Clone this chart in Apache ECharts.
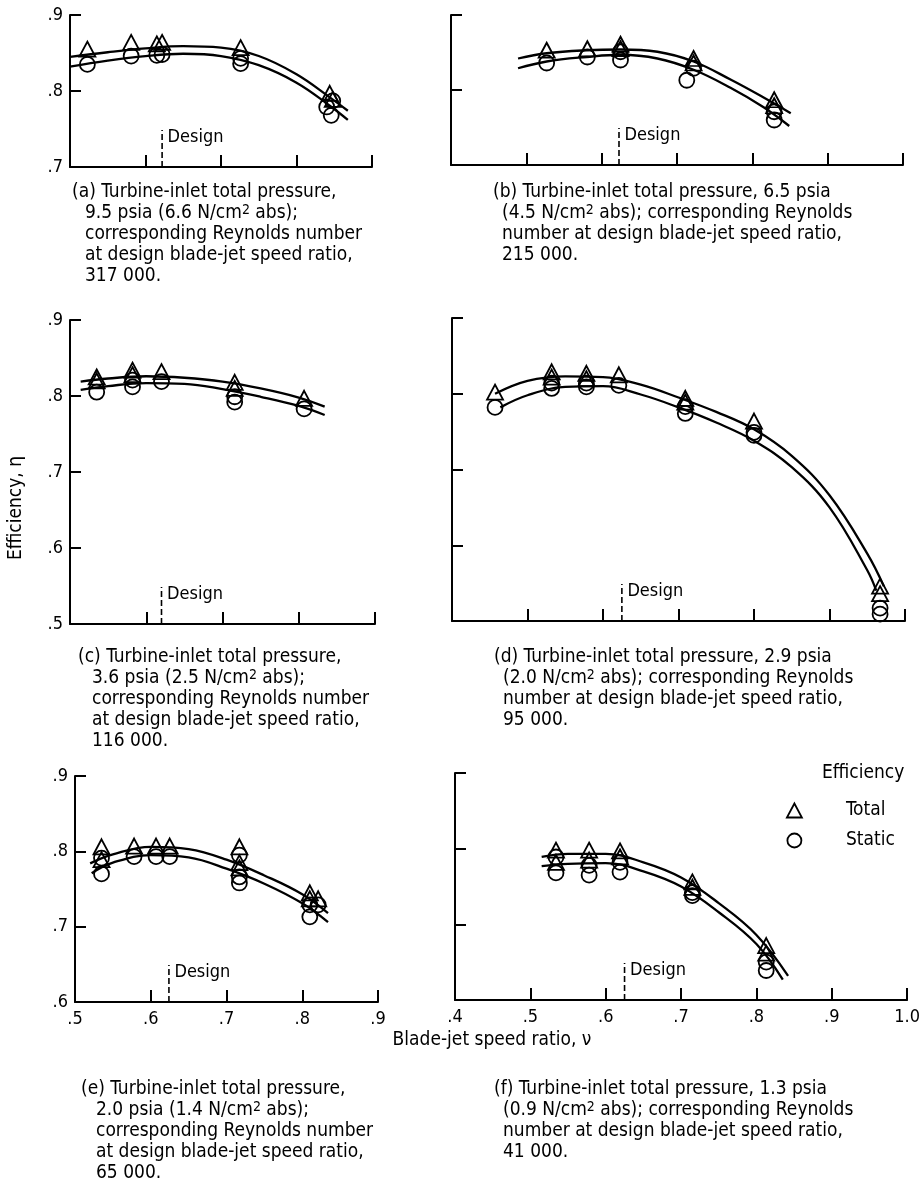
<!DOCTYPE html>
<html>
<head>
<meta charset="utf-8">
<script src="https://cdn.jsdelivr.net/npm/echarts@6/dist/echarts.min.js"></script>
<style>
  html, body { margin: 0; padding: 0; background: #fff; }
  #chart { width: 923px; height: 1192px; }
</style>
</head>
<body>
<div id="chart"></div>
<script>
const FONT = '"DejaVu Sans Condensed", "Liberation Sans", sans-serif';

// measured points: [blade-jet speed ratio, efficiency]
const totalA = [[0.523,0.855],[0.581,0.864],[0.615,0.862],[0.622,0.864],[0.726,0.857],[0.844,0.797],[0.848,0.789]];
const staticA = [[0.523,0.835],[0.581,0.846],[0.615,0.847],[0.622,0.848],[0.726,0.843],[0.726,0.836],[0.840,0.779],[0.846,0.768],[0.848,0.787]];
const totalB = [[0.527,0.853],[0.581,0.855],[0.625,0.861],[0.625,0.855],[0.722,0.842],[0.722,0.836],[0.829,0.787],[0.829,0.779]];
const staticB = [[0.527,0.836],[0.581,0.844],[0.625,0.851],[0.625,0.840],[0.722,0.829],[0.713,0.813],[0.829,0.771],[0.829,0.760]];
const totalC = [[0.535,0.825],[0.535,0.820],[0.582,0.834],[0.582,0.828],[0.62,0.832],[0.716,0.818],[0.716,0.810],[0.807,0.797]];
const staticC = [[0.535,0.805],[0.582,0.821],[0.582,0.812],[0.62,0.819],[0.716,0.799],[0.716,0.792],[0.807,0.783]];
const totalD = [[0.457,0.802],[0.532,0.829],[0.532,0.822],[0.578,0.827],[0.578,0.820],[0.621,0.825],[0.709,0.794],[0.709,0.789],[0.8,0.764],[0.967,0.546],[0.967,0.536]];
const staticD = [[0.457,0.782],[0.532,0.814],[0.532,0.807],[0.578,0.814],[0.578,0.809],[0.621,0.811],[0.709,0.783],[0.709,0.774],[0.8,0.749],[0.8,0.745],[0.967,0.517],[0.967,0.509]];
const totalE = [[0.535,0.806],[0.535,0.789],[0.578,0.807],[0.607,0.807],[0.625,0.807],[0.717,0.806],[0.717,0.785],[0.717,0.778],[0.81,0.745],[0.81,0.737],[0.821,0.737]];
const staticE = [[0.535,0.791],[0.535,0.770],[0.578,0.793],[0.607,0.793],[0.625,0.793],[0.717,0.795],[0.717,0.766],[0.717,0.758],[0.81,0.729],[0.81,0.713],[0.821,0.729]];
const totalF = [[0.534,0.798],[0.534,0.782],[0.578,0.798],[0.578,0.785],[0.619,0.797],[0.619,0.789],[0.715,0.756],[0.715,0.749],[0.813,0.672],[0.813,0.662]];
const staticF = [[0.534,0.789],[0.534,0.768],[0.578,0.778],[0.578,0.765],[0.619,0.782],[0.619,0.769],[0.715,0.742],[0.715,0.738],[0.813,0.650],[0.813,0.639]];

// faired curves
const fairTotalA = [[0.5,0.845],[0.55,0.851],[0.6,0.856],[0.65,0.859],[0.7,0.857],[0.75,0.846],[0.8,0.822],[0.845,0.791],[0.868,0.774]];
const fairStaticA = [[0.5,0.832],[0.55,0.840],[0.6,0.846],[0.65,0.849],[0.7,0.846],[0.75,0.834],[0.8,0.811],[0.845,0.78],[0.868,0.762]];
const fairTotalB = [[0.489,0.842],[0.527,0.849],[0.58,0.853],[0.625,0.854],[0.674,0.851],[0.722,0.838],[0.771,0.814],[0.815,0.790],[0.851,0.769]];
const fairStaticB = [[0.489,0.829],[0.527,0.838],[0.58,0.844],[0.625,0.847],[0.674,0.842],[0.722,0.827],[0.771,0.803],[0.815,0.777],[0.849,0.752]];
const fairTotalC = [[0.514,0.819],[0.55,0.823],[0.6,0.826],[0.65,0.824],[0.7,0.819],[0.75,0.810],[0.8,0.798],[0.834,0.786]];
const fairStaticC = [[0.514,0.808],[0.55,0.813],[0.6,0.817],[0.65,0.816],[0.7,0.809],[0.75,0.799],[0.8,0.787],[0.834,0.775]];
const fairTotalD = [[0.457,0.800],[0.5,0.817],[0.55,0.823],[0.6,0.822],[0.65,0.812],[0.7,0.795],[0.75,0.776],[0.8,0.753],[0.85,0.718],[0.9,0.666],[0.95,0.589],[0.972,0.546]];
const fairStaticD = [[0.464,0.782],[0.5,0.798],[0.55,0.809],[0.6,0.810],[0.65,0.799],[0.7,0.782],[0.75,0.762],[0.8,0.738],[0.85,0.703],[0.9,0.650],[0.95,0.567],[0.962,0.540]];
const fairTotalE = [[0.52,0.784],[0.55,0.796],[0.6,0.806],[0.65,0.803],[0.7,0.789],[0.75,0.768],[0.8,0.743],[0.834,0.718]];
const fairStaticE = [[0.522,0.771],[0.55,0.785],[0.6,0.795],[0.65,0.792],[0.7,0.777],[0.75,0.757],[0.8,0.731],[0.834,0.706]];
const fairTotalF = [[0.515,0.789],[0.55,0.793],[0.6,0.793],[0.65,0.782],[0.7,0.762],[0.75,0.728],[0.8,0.686],[0.842,0.632]];
const fairStaticF = [[0.515,0.777],[0.55,0.780],[0.6,0.781],[0.65,0.770],[0.7,0.750],[0.75,0.716],[0.8,0.674],[0.835,0.627]];

const designRatio = [0.622, 0.623, 0.62, 0.625, 0.624, 0.625];
const xMin = [0.5, 0.4, 0.5, 0.4, 0.5, 0.4];
const xMax = [0.9, 1.0, 0.9, 1.0, 0.9, 1.0];
const yMin = [0.7, 0.7, 0.5, 0.5, 0.6, 0.6];
const yMax = [0.9, 0.9, 0.9, 0.9, 0.9, 0.9];

const captions = [
  ["(a) Turbine-inlet total pressure,", "9.5 psia (6.6 N/cm{sup|2} abs);", "corresponding Reynolds number", "at design blade-jet speed ratio,", "317 000."],
  ["(b) Turbine-inlet total pressure, 6.5 psia", "(4.5 N/cm{sup|2} abs); corresponding Reynolds", "number at design blade-jet speed ratio,", "215 000."],
  ["(c) Turbine-inlet total pressure,", "3.6 psia (2.5 N/cm{sup|2} abs);", "corresponding Reynolds number", "at design blade-jet speed ratio,", "116 000."],
  ["(d) Turbine-inlet total pressure, 2.9 psia", "(2.0 N/cm{sup|2} abs); corresponding Reynolds", "number at design blade-jet speed ratio,", "95 000."],
  ["(e) Turbine-inlet total pressure,", "2.0 psia (1.4 N/cm{sup|2} abs);", "corresponding Reynolds number", "at design blade-jet speed ratio,", "65 000."],
  ["(f) Turbine-inlet total pressure, 1.3 psia", "(0.9 N/cm{sup|2} abs); corresponding Reynolds", "number at design blade-jet speed ratio,", "41 000."]
];

const totals = [totalA, totalB, totalC, totalD, totalE, totalF];
const statics = [staticA, staticB, staticC, staticD, staticE, staticF];
const fairTotals = [fairTotalA, fairTotalB, fairTotalC, fairTotalD, fairTotalE, fairTotalF];
const fairStatics = [fairStaticA, fairStaticB, fairStaticC, fairStaticD, fairStaticE, fairStaticF];

// layout (pixels)
const boxes = [
  { left: 70, top: 15, width: 302, height: 152 },
  { left: 451, top: 15, width: 452, height: 150 },
  { left: 70, top: 320, width: 305, height: 304 },
  { left: 452, top: 318, width: 453, height: 303 },
  { left: 75, top: 776, width: 303, height: 226 },
  { left: 455, top: 773, width: 454, height: 227 }
];
const captionPos = [
  { x1: 72, x2: 85, y: 192 },
  { x1: 493, x2: 502, y: 192 },
  { x1: 78, x2: 92, y: 657 },
  { x1: 494, x2: 503, y: 657 },
  { x1: 81, x2: 96, y: 1089 },
  { x1: 494, x2: 503, y: 1089 }
];
const LINE_GAP = 21;

const fmtTick = v => (v >= 0.999 ? v.toFixed(1) : v.toFixed(1).slice(1));
const black = "#000";
const hollow = { color: "rgba(0,0,0,0)", borderColor: black, borderWidth: 1.8, opacity: 1 };

const grid = [], xAxis = [], yAxis = [], series = [], graphic = [];

boxes.forEach((b, i) => {
  grid.push(Object.assign({ containLabel: false }, b));
  xAxis.push({
    type: "value", gridIndex: i, min: xMin[i], max: xMax[i], interval: 0.1,
    axisLine: { onZero: false, lineStyle: { color: black, width: 2 } },
    axisTick: { inside: true, length: 12, lineStyle: { color: black, width: 2 } },
    splitLine: { show: false },
    axisLabel: { show: i >= 4, formatter: fmtTick, color: black, fontFamily: FONT, fontSize: 18, margin: 8 }
  });
  yAxis.push({
    type: "value", gridIndex: i, min: yMin[i], max: yMax[i], interval: 0.1,
    axisLine: { onZero: false, lineStyle: { color: black, width: 2 } },
    axisTick: { inside: true, length: 11, lineStyle: { color: black, width: 2 } },
    splitLine: { show: false },
    axisLabel: { show: i % 2 === 0, formatter: fmtTick, color: black, fontFamily: FONT, fontSize: 18, margin: 7 }
  });

  const perPx = (yMax[i] - yMin[i]) / b.height;
  series.push({
    type: "line", xAxisIndex: i, yAxisIndex: i, smooth: 0.4, showSymbol: false, silent: true,
    data: fairTotals[i], lineStyle: { color: black, width: 2.3 }, z: 2
  });
  series.push({
    type: "line", xAxisIndex: i, yAxisIndex: i, smooth: 0.4, showSymbol: false, silent: true,
    data: fairStatics[i], lineStyle: { color: black, width: 2.3 }, z: 2
  });
  series.push({
    type: "line", xAxisIndex: i, yAxisIndex: i, showSymbol: false, silent: true,
    data: [[designRatio[i], yMin[i]], [designRatio[i], yMin[i] + 37 * perPx]],
    lineStyle: { color: black, width: 1.6, type: [6, 3] }, z: 2
  });
  series.push({
    type: "scatter", xAxisIndex: i, yAxisIndex: i, silent: true, symbolSize: 1,
    itemStyle: { color: "rgba(0,0,0,0)", opacity: 1 },
    data: [[designRatio[i], yMin[i] + 30 * perPx]],
    label: { show: true, position: "right", distance: 5, formatter: "Design", color: black, fontFamily: FONT, fontSize: 18 }
  });
  series.push({
    name: "Total", type: "scatter", xAxisIndex: i, yAxisIndex: i,
    symbol: "triangle", symbolSize: [16, 15], itemStyle: hollow, data: totals[i], z: 4
  });
  series.push({
    name: "Static", type: "scatter", xAxisIndex: i, yAxisIndex: i,
    symbol: "circle", symbolSize: 15, itemStyle: hollow, data: statics[i], z: 3
  });

  const cp = captionPos[i];
  captions[i].forEach((line, k) => {
    graphic.push({
      type: "text", x: k === 0 ? cp.x1 : cp.x2, y: cp.y + k * LINE_GAP, silent: true,
      style: {
        text: line, fill: black, fontFamily: FONT, fontSize: 19,
        textVerticalAlign: "middle", verticalAlign: "middle",
        rich: { sup: { fontSize: 14, verticalAlign: "top", lineHeight: 13, fontFamily: FONT, fill: black } }
      }
    });
  });
});

graphic.push({
  type: "text", x: 16, y: 508, rotation: Math.PI / 2, silent: true,
  style: { text: "Efficiency, η", fill: black, fontFamily: FONT, fontSize: 19,
    textAlign: "center", align: "center", textVerticalAlign: "middle", verticalAlign: "middle" }
});
graphic.push({
  type: "text", x: 492, y: 1040, silent: true,
  style: { text: "Blade-jet speed ratio, ν", fill: black, fontFamily: FONT, fontSize: 19,
    textAlign: "center", align: "center", textVerticalAlign: "middle", verticalAlign: "middle" }
});
graphic.push({
  type: "text", x: 822, y: 773, silent: true,
  style: { text: "Efficiency", fill: black, fontFamily: FONT, fontSize: 19,
    textVerticalAlign: "middle", verticalAlign: "middle" }
});

const chart = echarts.init(document.getElementById("chart"), null, { renderer: "canvas" });
chart.setOption({
  backgroundColor: "#fff",
  animation: false,
  grid, xAxis, yAxis, series, graphic,
  legend: {
    data: ["Total", "Static"], orient: "vertical", left: 781, top: 796,
    itemWidth: 15, itemHeight: 14, itemGap: 11, selectedMode: false,
    itemStyle: hollow,
    textStyle: { color: black, fontFamily: FONT, fontSize: 19, padding: [0, 0, 0, 39] }
  }
});
</script>
</body>
</html>
